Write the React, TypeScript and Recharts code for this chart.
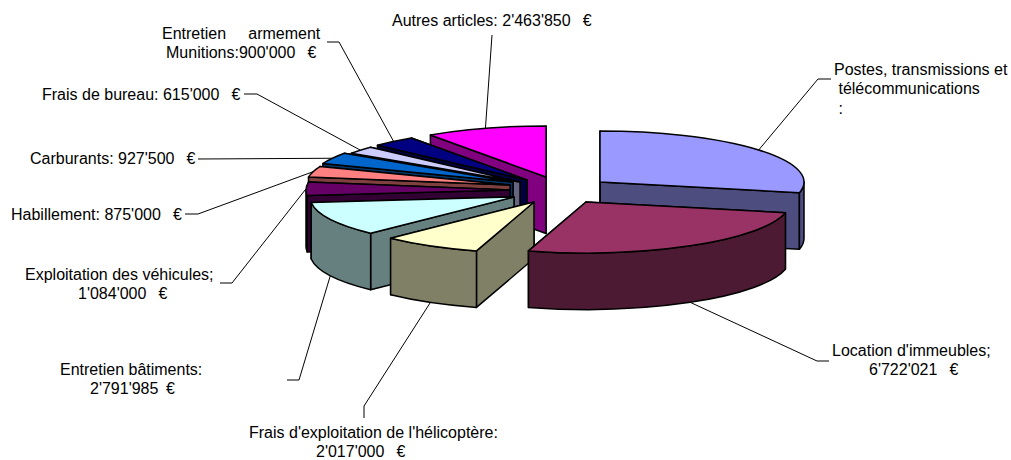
import React from "react";
import { PieChart, Pie } from "recharts";

// ---- data (paint order: back to front, swept counter-clockwise) ----
const categories = [
  "Postes, transmissions et télécommunications",
  "Autres articles",
  "Entretien armement Munitions",
  "Frais de bureau",
  "Carburants",
  "Habillement",
  "Exploitation des véhicules",
  "Entretien bâtiments",
  "Frais d'exploitation de l'hélicoptère",
  "Location d'immeubles",
];
const values = [7290000, 2463850, 900000, 615000, 927500, 875000, 1084000, 2791985, 2017000, 6722021];
const labelTexts = [
  ["Postes, transmissions et", " télécommunications", " :"],
  ["Autres articles: 2'463'850\u2009  €"],
  ["Entretien     armement", "Munitions:900'000\u2009  €"],
  ["Frais de bureau: 615'000\u2009  €"],
  ["Carburants: 927'500\u2009  €"],
  ["Habillement: 875'000\u2009  €"],
  ["Exploitation des véhicules;", "1'084'000\u2009  €"],
  ["Entretien bâtiments:", "2'791'985\u2009 €"],
  ["Frais d'exploitation de l'hélicoptère:", "2'017'000\u2009  €"],
  ["Location d'immeubles;", "6'722'021\u2009  €"],
];

// ---- styles and layout ----
const topColors = ["#9999FF", "#FF00FF", "#000080", "#CCCCFF", "#0066CC", "#FF8080", "#660066", "#CCFFFF", "#FFFFCC", "#993366"];
const wallColors = ["#4D4D80", "#800080", "#000040", "#666680", "#003366", "#804040", "#330033", "#668080", "#808066", "#4D1A33"];
const CX = 525;
const CY = 188;
const R = 204;
const RY = 51;
const DEPTH = 56.5;
// exploded apex offset of each slice
const offsets = [
  [75, -6], [21, -11], [2, -8], [-5, -6], [-12, -6],
  [-15, -3], [-15, 2], [-11, 9], [9, 14], [61, 14],
];
// elbow points of each leader line
const leaders = [
  [[818, 79], [831, 79]],
  [[492, 35]],
  [[339, 42], [327, 42]],
  [[257, 94], [244, 94]],
  [[198, 159]],
  [[198, 214], [185, 214]],
  [[232, 283], [220, 283]],
  [[299, 380], [287, 380]],
  [[364, 406], [364, 418]],
  [[817, 361], [829, 361]],
];
// left x of each text line and the baseline of the first line
const labelAnchors = [
  { xs: [834, 834, 834], y: 74.5 },
  { xs: [392], y: 25.5 },
  { xs: [162, 166], y: 38.5 },
  { xs: [42], y: 99.5 },
  { xs: [30], y: 163.5 },
  { xs: [11], y: 219.5 },
  { xs: [25, 78], y: 279.5 },
  { xs: [60, 90], y: 374.5 },
  { xs: [249, 316], y: 437.5 },
  { xs: [832, 869], y: 355.5 },
];
const LINE_H = 19.6;

const rad = (a: number) => (a * Math.PI) / 180;
const pt = (ox: number, oy: number, a: number, dy = 0) =>
  [ox + R * Math.cos(rad(a)), oy - RY * Math.sin(rad(a)) + dy] as [number, number];
const f = (p: number[]) => `${p[0].toFixed(2)} ${p[1].toFixed(2)}`;

const data = categories.map((name, i) => ({ name, value: values[i], idx: i }));
const total = values.reduce((a, b) => a + b, 0);
const startAngle = 90 - (values[0] / total) * 360;

function Slice3D(props: any) {
  const i = props.idx ?? props.payload?.idx ?? 0;
  const s = props.startAngle;
  const e = props.endAngle;
  const lo = Math.min(s, e);
  const hi = Math.max(s, e);
  const ox = props.cx + offsets[i][0];
  const oy = props.cy + offsets[i][1];
  const stroke = { stroke: "#000", strokeWidth: 1.5, strokeLinejoin: "round" as const };
  const face = (a: number) => {
    const p = pt(ox, oy, a);
    const q = pt(ox, oy, a, DEPTH);
    return `M${f([ox, oy])} L${f(p)} L${f(q)} L${f([ox, oy + DEPTH])} Z`;
  };
  const walls: string[] = [];
  for (const [a, b] of [[-180, 0], [180, 360]]) {
    const a0 = Math.max(lo, a);
    const a1 = Math.min(hi, b);
    if (a1 > a0) {
      const large = a1 - a0 > 180 ? 1 : 0;
      walls.push(
        `M${f(pt(ox, oy, a0))} A${R} ${RY} 0 ${large} 0 ${f(pt(ox, oy, a1))} L${f(pt(ox, oy, a1, DEPTH))} A${R} ${RY} 0 ${large} 1 ${f(pt(ox, oy, a0, DEPTH))} Z`
      );
    }
  }
  const top = `M${f([ox, oy])} L${f(pt(ox, oy, lo))} A${R} ${RY} 0 ${hi - lo > 180 ? 1 : 0} 0 ${f(pt(ox, oy, hi))} Z`;
  return (
    <g>
      <path d={face(lo)} fill={wallColors[i]} {...stroke} />
      <path d={face(hi)} fill={wallColors[i]} {...stroke} />
      {walls.map((d, k) => (
        <path key={k} d={d} fill={wallColors[i]} {...stroke} />
      ))}
      <path d={top} fill={topColors[i]} {...stroke} />
    </g>
  );
}

function Label3D(props: any) {
  const i = props.index ?? 0;
  const mid = props.midAngle;
  const ox = CX + offsets[i][0];
  const oy = CY + offsets[i][1];
  const front = Math.sin(rad(mid)) < -0.02;
  const start = pt(ox, oy, mid, front ? DEPTH : 0);
  const pts = [start, ...leaders[i]].map((p) => p.join(",")).join(" ");
  const a = labelAnchors[i];
  return (
    <g>
      <polyline points={pts} fill="none" stroke="#000" strokeWidth={1} />
      {labelTexts[i].map((t, k) => (
        <text
          key={k}
          x={a.xs[k]}
          y={a.y + k * LINE_H}
          fontFamily="Liberation Sans"
          fontSize={16}
          fill="#000"
          style={{ whiteSpace: "pre" }}
        >
          {t}
        </text>
      ))}
    </g>
  );
}

export default function App() {
  return (
    <div style={{ position: "absolute", left: 0, top: 0, width: 1011, height: 460, background: "#fff" }}>
      <PieChart width={1011} height={460} margin={{ top: 0, right: 0, bottom: 0, left: 0 }}>
        <Pie
          data={data}
          dataKey="value"
          nameKey="name"
          cx={CX}
          cy={CY}
          innerRadius={0}
          outerRadius={R}
          startAngle={startAngle}
          endAngle={startAngle + 360}
          paddingAngle={0}
          stroke="none"
          isAnimationActive={false}
          shape={Slice3D}
          label={Label3D}
          labelLine={false}
        />
      </PieChart>
    </div>
  );
}
